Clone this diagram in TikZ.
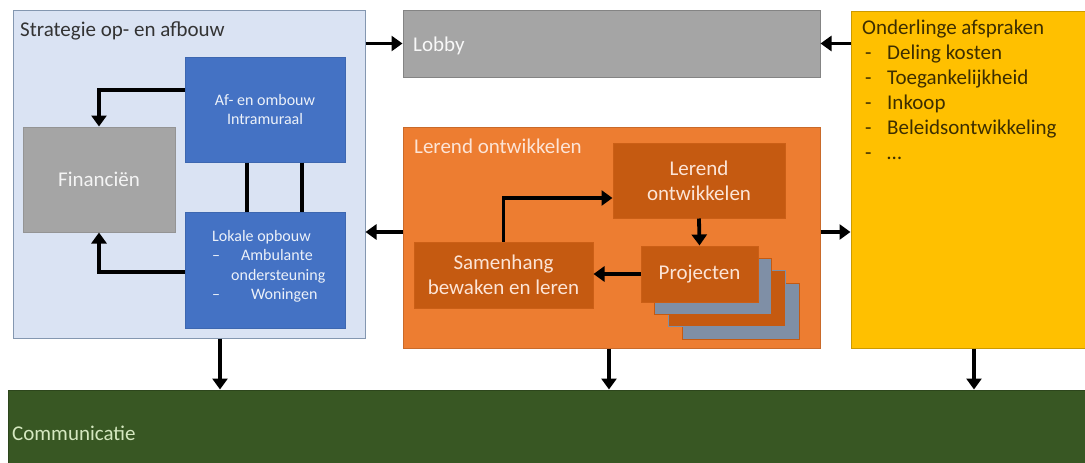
\documentclass[tikz,border=0pt]{standalone}
\usepackage{fontspec}
\setmainfont{Carlito}
\usetikzlibrary{arrows.meta}
\definecolor{stratfill}{HTML}{DAE3F3}
\definecolor{stratdraw}{HTML}{8497B0}
\definecolor{bluebox}{HTML}{4472C4}
\definecolor{greybox}{HTML}{A5A5A5}
\definecolor{orangeout}{HTML}{ED7D31}
\definecolor{orangein}{HTML}{C55A11}
\definecolor{stackgrey}{HTML}{7F8FA6}
\definecolor{yellowbox}{HTML}{FFC000}
\definecolor{greenbox}{HTML}{385723}
\definecolor{palegreen}{HTML}{D5E8C0}
\definecolor{paleorange}{HTML}{FCE4D6}
\definecolor{darkyellow}{HTML}{3D2E00}
\tikzset{
  every node/.style={font=\fontsize{21}{25}\selectfont, inner sep=0pt},
  box/.style={rectangle, draw, line width=1pt},
  smallfont/.style={font=\fontsize{16}{19.5}\selectfont},
  arr/.style={line width=3.8pt, -{Triangle[width=15pt,length=11pt]}},
  bar/.style={line width=4.5pt},
  inbox/.style={box, fill=orangein, draw=orangein!85!orangeout, text=paleorange, align=center},
  stk/.style={box, minimum width=117pt, minimum height=56pt},
}
\begin{document}
\begin{tikzpicture}[x=1pt,y=-1pt]
\useasboundingbox[fill=white] (0,0) rectangle (1085,463);
% Strategie
\node[box, fill=stratfill, draw=stratdraw, minimum width=352pt, minimum height=328pt] (strat) at (189,174) {};
\node[anchor=base west, text=black!80] (strattitle) at (20,36) {Strategie op- en afbouw};
\node[box, fill=bluebox, draw=bluebox!90!black, minimum width=160pt, minimum height=105pt, text=white!90!bluebox, smallfont, align=center] (af) at (265,109.5) {Af- en ombouw\\Intramuraal};
\node[box, fill=greybox, draw=greybox!90!black, minimum width=152pt, minimum height=105pt, text=white!88!greybox] (fin) at (99,179.5) {Financiën};
\node[box, fill=bluebox, draw=bluebox!90!black, minimum width=160pt, minimum height=116pt] (lok) at (265,270) {};
\node[anchor=north west, smallfont, align=left, text=white!90!bluebox] (loktext) at (212,230) {Lokale opbouw\\–\hspace{21pt}Ambulante\\\hspace{19pt}ondersteuning\\–\hspace{31pt}Woningen};
% Lobby
\node[box, fill=greybox, draw=greybox!80!black, minimum width=417pt, minimum height=67pt] (lobby) at (611.5,43.5) {};
\node[anchor=base west, text=white!92!greybox] (lobbytext) at (413,51) {Lobby};
% Lerend ontwikkelen
\node[box, fill=orangeout, draw=orangeout!85!black, minimum width=417pt, minimum height=221pt] (lerout) at (611.5,237.5) {};
\node[anchor=base west, text=paleorange] (lertitle) at (414,153) {Lerend ontwikkelen};
\node[inbox, minimum width=172pt, minimum height=75pt] (lerin) at (699,180.5) {Lerend\\ontwikkelen};
\node[stk, fill=stackgrey, draw=orangein] (s3) at (740.5,311) {};
\node[stk, fill=orangein, draw=stackgrey] (s2) at (727,298) {};
\node[stk, fill=stackgrey, draw=orangein] (s1) at (713,286) {};
\node[inbox, minimum width=117pt, minimum height=56pt] (proj) at (699.5,274) {Projecten};
\node[inbox, minimum width=179pt, minimum height=66pt] (sam) at (503.5,275) {Samenhang\\bewaken en leren};
% Onderlinge afspraken
\node[box, fill=yellowbox, draw=yellowbox!80!black, minimum width=234pt, minimum height=337pt] (ond) at (968,179.5) {};
\node[anchor=north west, align=left, text=darkyellow] (ondtext) at (862,20) {Onderlinge afspraken\\
\hspace*{3pt}\makebox[22pt][l]{-}Deling kosten\\
\hspace*{3pt}\makebox[22pt][l]{-}Toegankelijkheid\\
\hspace*{3pt}\makebox[22pt][l]{-}Inkoop\\
\hspace*{3pt}\makebox[22pt][l]{-}Beleidsontwikkeling\\
\hspace*{3pt}\makebox[22pt][l]{-}\ldots};
% Communicatie
\node[box, fill=greenbox, draw=greenbox!80!black, minimum width=1078pt, minimum height=73pt] (com) at (547,426.5) {};
\node[anchor=base west, text=palegreen] (comtext) at (12,440) {Communicatie};
% connectors
\draw[arr] (strat.east |- lobby.west) -- (lobby.west);
\draw[arr] (ond.west |- lobby.east) -- (lobby.east);
\draw[arr] (lerout.west |- 0,232) -- (strat.east |- 0,232);
\draw[arr] (lerout.east |- 0,232) -- (ond.west |- 0,232);
\draw[arr] (af.west |- 0,90) -| (fin.north);
\draw[arr] (lok.west |- 0,272) -| (fin.south);
\draw[bar] (af.south -| 247,0) -- (lok.north -| 247,0);
\draw[bar] (af.south -| 302,0) -- (lok.north -| 302,0);
\draw[arr] (sam.north) |- (lerin.west |- 0,198);
\draw[arr] (lerin.south) -- (proj.north);
\draw[arr] (proj.west) -- (sam.east |- proj.west);
\draw[arr] (strat.south -| 220,0) -- (com.north -| 220,0);
\draw[arr] (lerout.south -| 609,0) -- (com.north -| 609,0);
\draw[arr] (ond.south -| 974,0) -- (com.north -| 974,0);
\end{tikzpicture}
\end{document}
